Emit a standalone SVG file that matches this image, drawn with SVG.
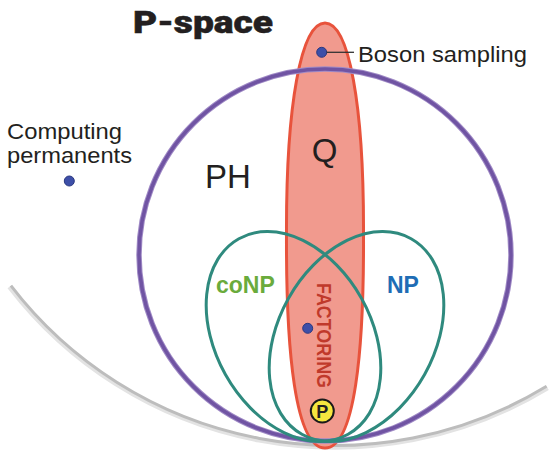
<svg xmlns="http://www.w3.org/2000/svg" width="556" height="460" viewBox="0 0 556 460">
<defs>
<style>
.lbl{font-family:"Liberation Sans",Arial,sans-serif;fill:#231f20}
.bold{font-weight:bold}
.dot{fill:#3d4fa8;stroke:#2a3880;stroke-width:1}
.np{fill:none;stroke:#2f8a7e;stroke-width:3}
</style>
</defs>
<rect width="556" height="460" fill="#ffffff"/>
<g id="pspace-boundary">
<path d="M8.9,287.2 A411,411 0 0 0 547.9,388.4" fill="none" stroke="#e3e3e3" stroke-width="3.5"/>
<path d="M10.9,285.7 A408.5,408.5 0 0 0 546.6,386.3" fill="none" stroke="#bdbdbd" stroke-width="3"/>
</g>
<g id="Q">
<path d="M325,23 C349,23 364,105 363.5,235 C364,350 355,448 325,448 C295,448 286,350 286.5,235 C286,105 301,23 325,23 Z" fill="#f19a8e" stroke="#e8533c" stroke-width="3"/>
<text class="lbl" x="324.5" y="162" font-size="33" text-anchor="middle">Q</text>
</g>
<g id="PH">
<circle cx="325" cy="255" r="186" fill="none" stroke="#a08bc6" stroke-width="5.5"/>
<circle cx="325" cy="255" r="186" fill="none" stroke="#7054a3" stroke-width="3.5"/>
<text class="lbl" x="205" y="188" font-size="33">PH</text>
</g>
<g id="coNP">
<ellipse class="np" cx="293.5" cy="336.5" rx="112" ry="78" transform="rotate(60.8 293.5 336.5)"/>
<text class="lbl bold" x="216" y="293" font-size="23" style="fill:#6aab3c">coNP</text>
</g>
<g id="NP">
<ellipse class="np" cx="356.5" cy="336.5" rx="112" ry="78" transform="rotate(-60.8 356.5 336.5)"/>
<text class="lbl bold" x="387" y="293" font-size="23" style="fill:#1f6db5">NP</text>
</g>
<g id="factoring">
<circle class="dot" cx="307.7" cy="328.3" r="5"/>
<text class="lbl bold" x="283" y="-317" font-size="20" textLength="105" lengthAdjust="spacingAndGlyphs" transform="rotate(90)" style="fill:#c0392b">FACTORING</text>
</g>
<g id="P">
<circle cx="322.3" cy="411" r="11.5" fill="#f6e63f" stroke="#1a1a1a" stroke-width="2"/>
<text class="lbl bold" x="322.3" y="417.5" font-size="18" text-anchor="middle">P</text>
</g>
<g id="boson-sampling">
<circle class="dot" cx="321.7" cy="52.3" r="5"/>
<text class="lbl" x="358" y="61.5" font-size="22" textLength="169" lengthAdjust="spacingAndGlyphs">Boson sampling</text>
</g>
<g id="computing-permanents">
<circle class="dot" cx="69.3" cy="181" r="5"/>
<text class="lbl" x="7" y="138.5" font-size="22" textLength="115" lengthAdjust="spacingAndGlyphs">Computing</text>
<text class="lbl" x="7" y="163.3" font-size="22" textLength="125" lengthAdjust="spacingAndGlyphs">permanents</text>
</g>
<g id="title">
<text x="133" y="33" font-family="Roboto, Lato, 'Liberation Sans', sans-serif" font-size="31" font-weight="900" fill="#231f20" stroke="#231f20" stroke-width="0.5" textLength="140" lengthAdjust="spacingAndGlyphs">P-space</text>
</g>
<g id="connectors">
<line x1="326.5" y1="52.3" x2="354" y2="52.3" stroke="#333333" stroke-width="1.3"/>
</g>
</svg>
